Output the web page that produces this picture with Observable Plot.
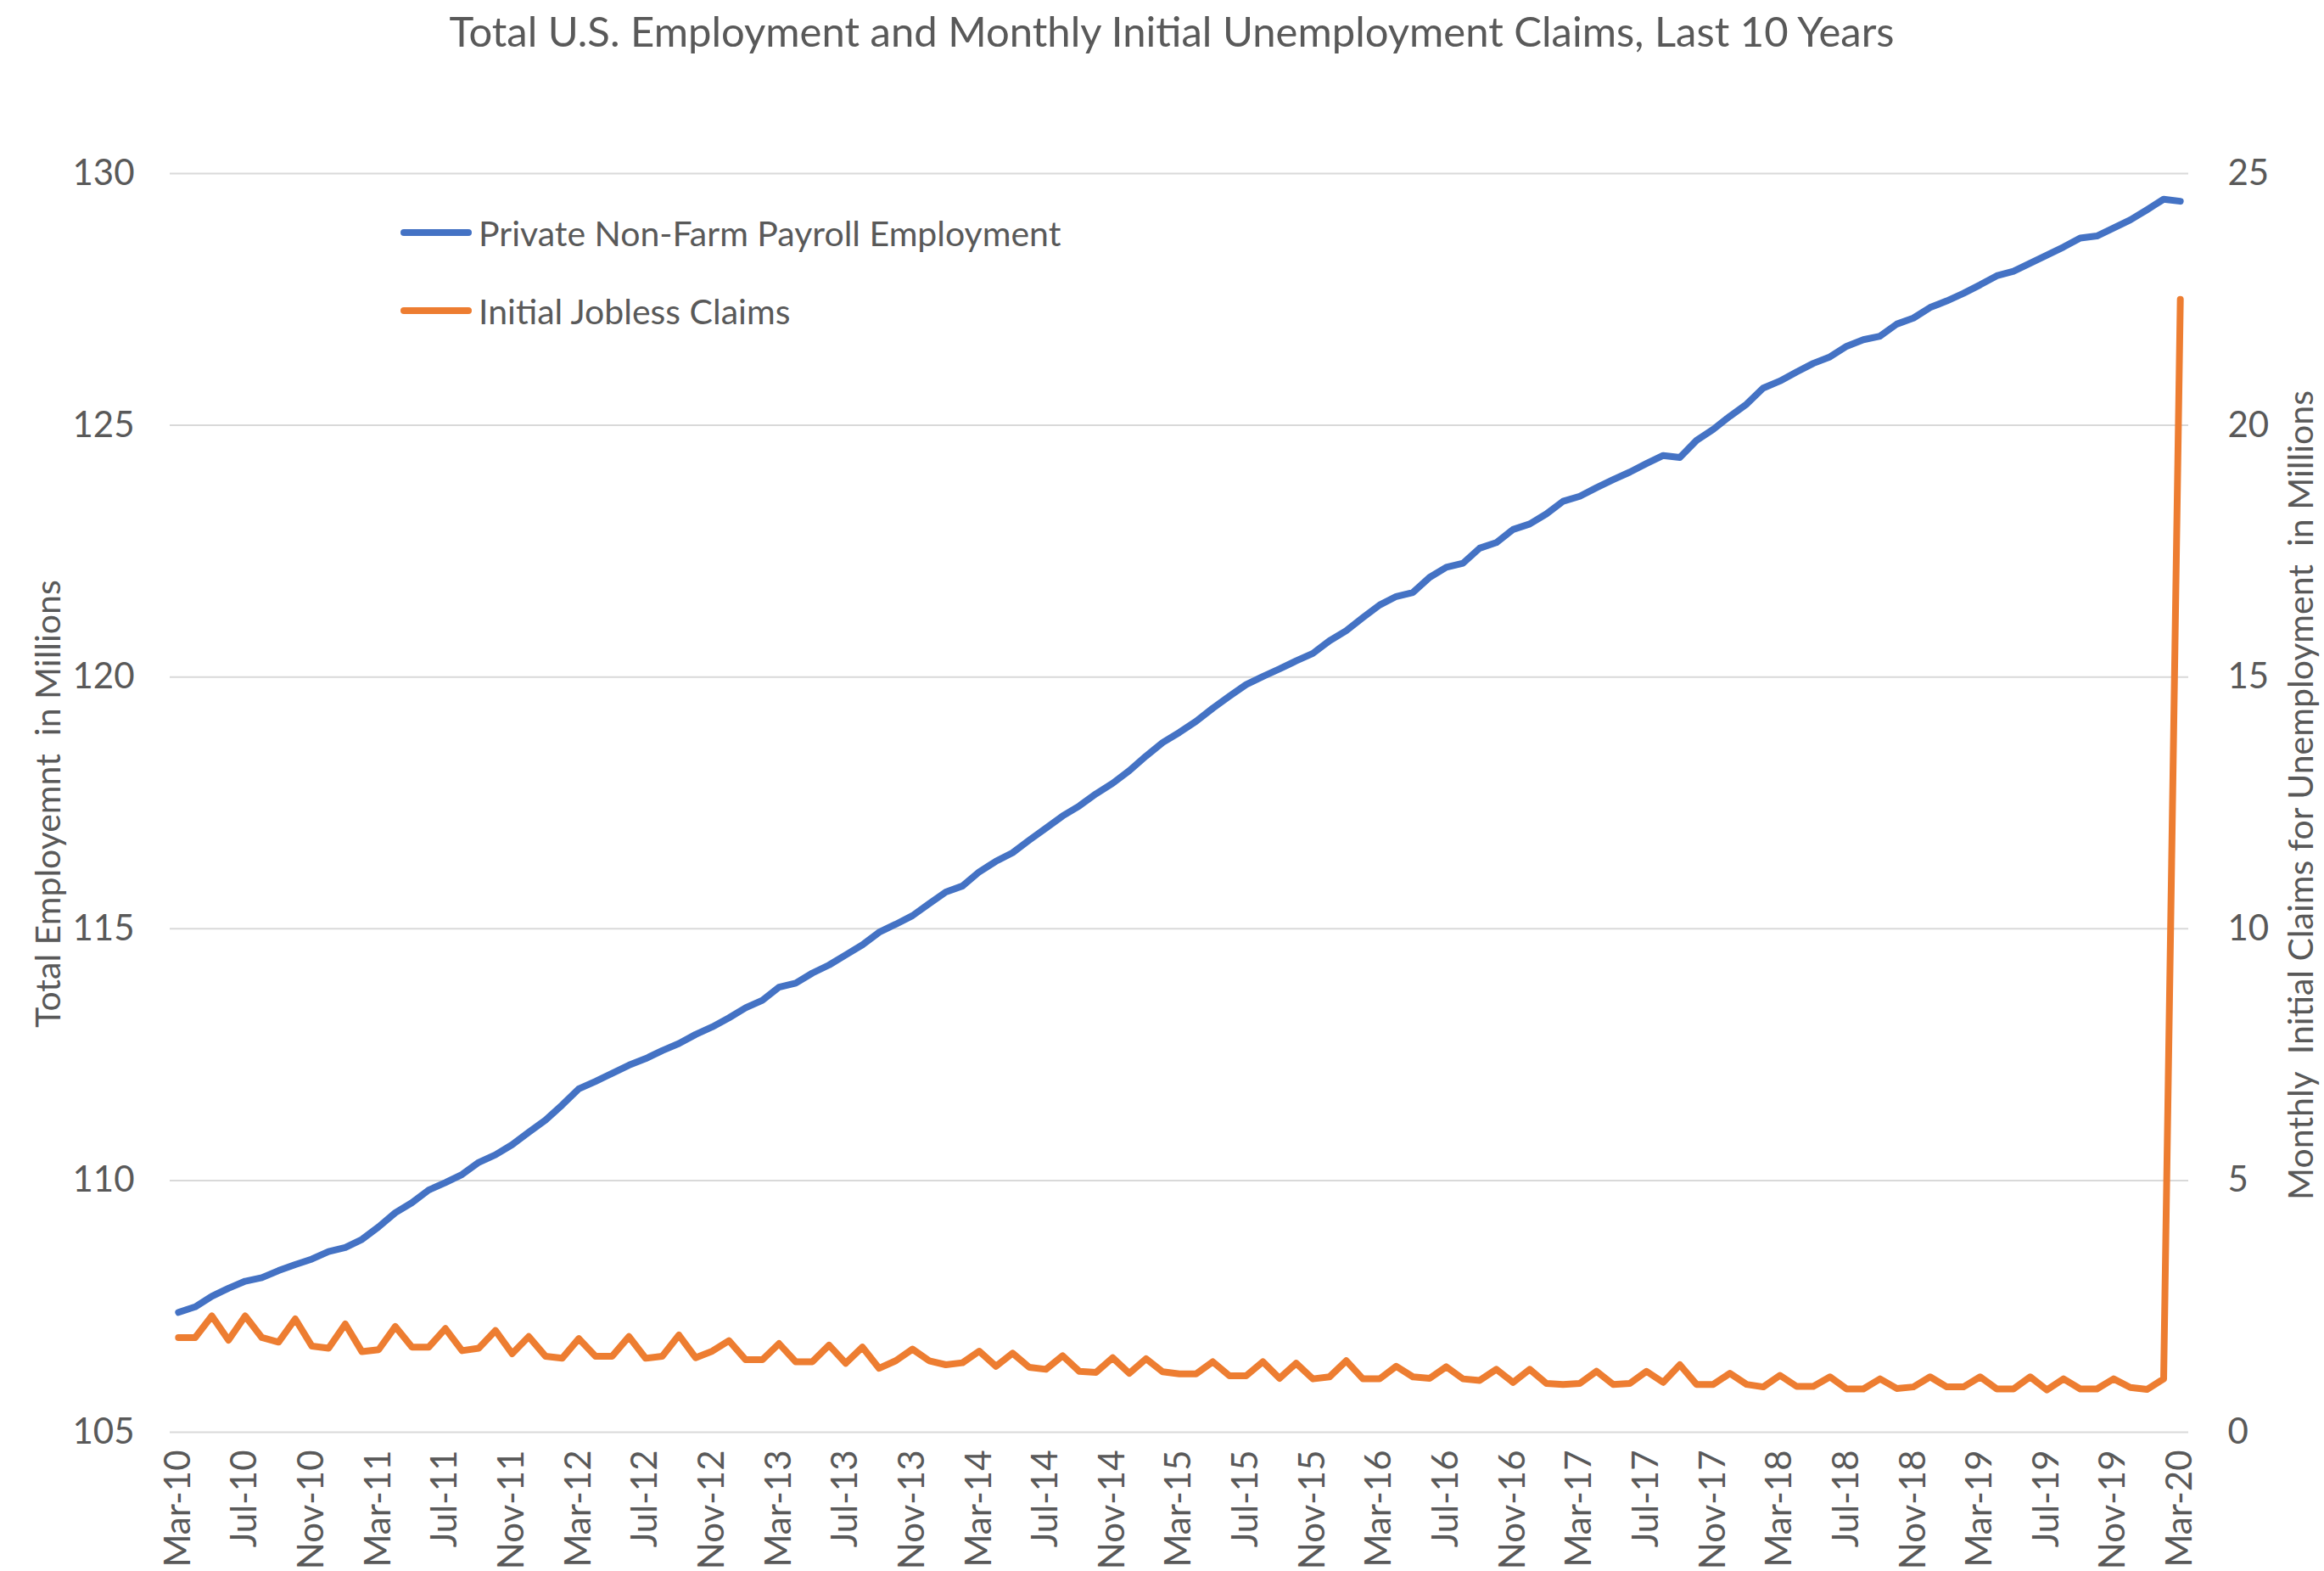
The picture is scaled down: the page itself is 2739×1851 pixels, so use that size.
<!DOCTYPE html>
<html>
<head>
<meta charset="utf-8">
<script src="https://cdn.jsdelivr.net/npm/d3@7"></script>
<script src="https://cdn.jsdelivr.net/npm/@observablehq/plot@0.6"></script>
<style>
  body { margin: 0; background: #fff; }
  #wrap { position: relative; width: 2739px; height: 1851px; overflow: hidden; font-family: Lato, "Open Sans", sans-serif; color: #595959; background: #fff; }
  #title { position: absolute; left: 0; width: 2762px; top: 12px; text-align: center; font-size: 49px; line-height: 1; white-space: pre; }
  #chart { position: absolute; left: 0; top: 100px; }
  .ytitle { position: absolute; font-size: 41px; line-height: 1; white-space: pre; transform: translate(-50%, -50%) rotate(-90deg); }
  .legrow { position: absolute; left: 472px; height: 50px; display: flex; align-items: center; font-size: 41px; white-space: pre; }
  .legsw { width: 84px; height: 8px; border-radius: 4px; margin-right: 8px; }
</style>
</head>
<body>
<div id="wrap">
  <div id="title"></div>
  <div id="chart"></div>
  <div class="ytitle" id="ytl" style="left:55px; top:947px;"></div>
  <div class="ytitle" id="ytr" style="left:2710px; top:937px;"></div>
  <div class="legrow" id="leg1" style="top:249px;"><div class="legsw" style="background:#4472C4"></div><span></span></div>
  <div class="legrow" id="leg2" style="top:341px;"><div class="legsw" style="background:#ED7D31"></div><span></span></div>
</div>
<script>
const titleText = "Total U.S. Employment and Monthly Initial Unemployment Claims, Last 10 Years";
const leftAxisTitle = "Total Employemnt  in Millions";
const rightAxisTitle = "Monthly  Initial Claims for Unemployment  in Millions";
const seriesNames = ["Private Non-Farm Payroll Employment", "Initial Jobless Claims"];
const seriesColors = ["#4472C4", "#ED7D31"];

// Categories: monthly, Mar-10 .. Mar-20
const monthNames = ["Jan","Feb","Mar","Apr","May","Jun","Jul","Aug","Sep","Oct","Nov","Dec"];
const months = [];
for (let k = 0; k <= 120; k++) {
  const m = (2 + k) % 12, y = 10 + Math.floor((2 + k) / 12);
  months.push(monthNames[m] + "-" + String(y).padStart(2, "0"));
}

// Private non-farm payroll employment (millions)
const employment = [
  107.38,107.49,107.70,107.86,108.00,108.07,108.21,108.33,108.44,108.59,
  108.67,108.83,109.08,109.36,109.56,109.81,109.96,110.12,110.36,110.51,
  110.71,110.96,111.20,111.50,111.82,111.97,112.13,112.29,112.42,112.58,
  112.72,112.90,113.05,113.23,113.43,113.58,113.84,113.92,114.12,114.28,
  114.48,114.68,114.93,115.09,115.26,115.50,115.73,115.85,116.13,116.34,
  116.51,116.76,117.00,117.24,117.44,117.68,117.89,118.14,118.43,118.70,
  118.90,119.12,119.38,119.62,119.85,120.01,120.16,120.32,120.47,120.72,
  120.92,121.18,121.43,121.60,121.68,121.98,122.18,122.26,122.56,122.67,
  122.93,123.04,123.24,123.49,123.59,123.76,123.92,124.07,124.24,124.40,
  124.36,124.70,124.92,125.18,125.42,125.74,125.88,126.06,126.23,126.36,
  126.57,126.70,126.77,127.01,127.13,127.34,127.47,127.62,127.79,127.97,
  128.06,128.22,128.38,128.54,128.72,128.76,128.92,129.08,129.28,129.49,
  129.45
];

// Monthly initial jobless claims (millions)
const claims = [
  1.88,1.88,2.31,1.83,2.31,1.88,1.79,2.25,1.71,1.67,
  2.15,1.60,1.64,2.10,1.69,1.69,2.06,1.62,1.67,2.02,
  1.56,1.90,1.51,1.47,1.86,1.51,1.51,1.90,1.47,1.51,
  1.93,1.48,1.61,1.82,1.44,1.44,1.76,1.40,1.40,1.73,
  1.37,1.69,1.27,1.42,1.65,1.42,1.34,1.38,1.61,1.31,
  1.57,1.29,1.25,1.52,1.21,1.19,1.48,1.17,1.46,1.20,
  1.16,1.16,1.40,1.12,1.12,1.40,1.07,1.37,1.06,1.10,
  1.42,1.06,1.06,1.31,1.10,1.07,1.30,1.06,1.03,1.25,
  0.99,1.25,0.97,0.95,0.97,1.21,0.95,0.97,1.21,0.99,
  1.34,0.95,0.95,1.17,0.95,0.90,1.13,0.91,0.91,1.10,
  0.86,0.86,1.06,0.87,0.90,1.10,0.90,0.90,1.10,0.86,
  0.86,1.10,0.84,1.06,0.86,0.86,1.06,0.89,0.85,1.06,
  22.5
];

const xTickLabels = ["Mar-10","Jul-10","Nov-10","Mar-11","Jul-11","Nov-11","Mar-12","Jul-12","Nov-12",
  "Mar-13","Jul-13","Nov-13","Mar-14","Jul-14","Nov-14","Mar-15","Jul-15","Nov-15","Mar-16","Jul-16",
  "Nov-16","Mar-17","Jul-17","Nov-17","Mar-18","Jul-18","Nov-18","Mar-19","Jul-19","Nov-19","Mar-20"];
const leftTicks = [105, 110, 115, 120, 125, 130];
const rightTicks = [0, 5, 10, 15, 20, 25];
const leftMin = 105; // right axis 0 aligns with left axis 105 (same units per tick)

const rows = months.map((m, i) => ({month: m, emp: employment[i], claims: claims[i]}));

document.getElementById("title").textContent = titleText;
document.getElementById("ytl").textContent = leftAxisTitle;
document.getElementById("ytr").textContent = rightAxisTitle;
document.querySelector("#leg1 span").textContent = seriesNames[0];
document.querySelector("#leg2 span").textContent = seriesNames[1];

const chart = Plot.plot({
  width: 2739,
  height: 1751,
  marginTop: 104,
  marginBottom: 164,
  marginLeft: 200,
  marginRight: 160,
  style: {fontFamily: "Lato, 'Open Sans', sans-serif", fontSize: "42px", color: "#595959", background: "transparent", overflow: "visible"},
  x: {type: "point", domain: months, padding: 0.5},
  y: {domain: [105, 130]},
  marks: [
    Plot.gridY({ticks: leftTicks, stroke: "#d9d9d9", strokeOpacity: 1, strokeWidth: 2}),
    Plot.axisY({anchor: "left", ticks: leftTicks, tickSize: 0, tickPadding: 42, label: null}),
    Plot.axisY({anchor: "right", ticks: rightTicks.map(v => v + leftMin), tickFormat: d => String(d - leftMin), tickSize: 0, tickPadding: 46, label: null}),
    Plot.axisX({ticks: xTickLabels, tickSize: 0, tickPadding: 21, tickRotate: -90, label: null}),
    Plot.line(rows, {x: "month", y: "emp", stroke: seriesColors[0], strokeWidth: 8, strokeLinejoin: "round", strokeLinecap: "round"}),
    Plot.line(rows, {x: "month", y: d => leftMin + d.claims, stroke: seriesColors[1], strokeWidth: 8, strokeLinejoin: "round", strokeLinecap: "round"})
  ]
});
document.getElementById("chart").appendChild(chart);
</script>
</body>
</html>
